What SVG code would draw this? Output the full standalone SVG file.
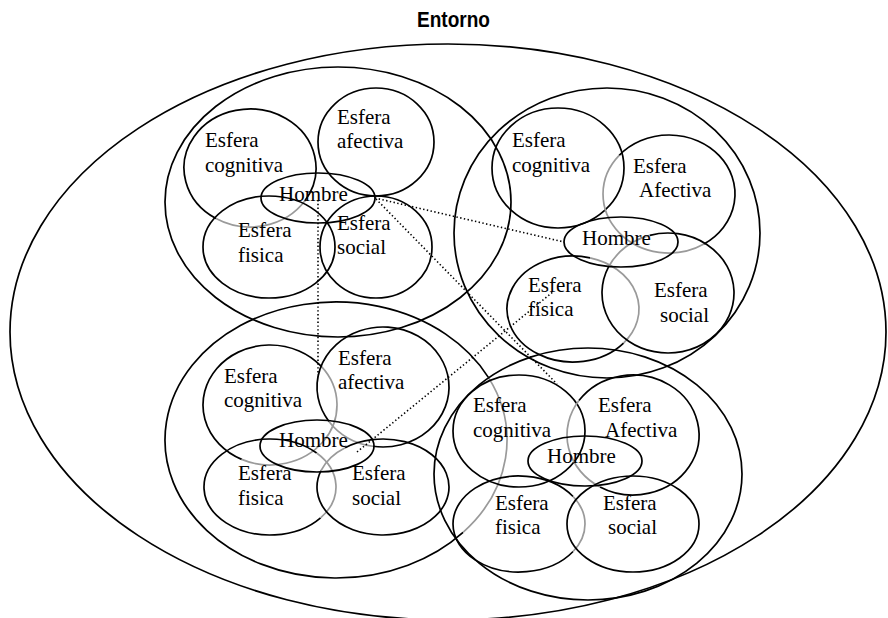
<svg xmlns="http://www.w3.org/2000/svg" width="888" height="618" viewBox="0 0 888 618">
  <style>
    .ln { fill: none; stroke: #000; stroke-width: 1.7; }
    .gr { fill: none; stroke: #9a9a9a; stroke-width: 1.7; }
    .dot { fill: none; stroke: #000; stroke-width: 1.6; stroke-dasharray: 1.4 2.4; }
    .lbl { font-family: "Liberation Serif", "Times New Roman", serif; font-size: 21px; fill: #000; }
    .title { font-family: "Liberation Sans Narrow", "Liberation Sans", Arial, sans-serif; font-size: 22px; font-weight: bold; fill: #000; }
  </style>
  <rect width="888" height="618" fill="#fff"/>

  <!-- Environment -->
  <g id="entorno">
    <ellipse class="ln" cx="448" cy="332" rx="438" ry="288"/>
    <text class="title" x="417" y="27" textLength="73" lengthAdjust="spacingAndGlyphs">Entorno</text>
  </g>

  <!-- Person 1 (top left) -->
  <g id="persona1">
    <ellipse class="ln" cx="338" cy="202" rx="173" ry="135"/>
    <g id="p1-cognitiva">
      <path class="ln" d="M216.01,218.57 A66,59 0 1 1 304.71,201"/>
      <path class="gr" d="M304.71,201 A66,59 0 0 1 216.01,218.57"/>
      <text class="lbl" x="205" y="147">Esfera</text>
      <text class="lbl" x="205" y="172">cognitiva</text>
    </g>
    <g id="p1-afectiva">
      <ellipse class="ln" cx="376" cy="142" rx="58" ry="54"/>
      <text class="lbl" x="337" y="124">Esfera</text>
      <text class="lbl" x="337" y="148">afectiva</text>
    </g>
    <g id="p1-fisica">
      <ellipse class="ln" cx="269" cy="247" rx="66" ry="51"/>
      <text class="lbl" x="238" y="237">Esfera</text>
      <text class="lbl" x="238" y="262">fisica</text>
    </g>
    <g id="p1-social">
      <ellipse class="ln" cx="376" cy="247" rx="56" ry="51"/>
      <text class="lbl" x="337" y="230">Esfera</text>
      <text class="lbl" x="337" y="254">social</text>
    </g>
    <g id="p1-hombre">
      <ellipse class="ln" cx="318" cy="198" rx="57" ry="25"/>
      <text class="lbl" x="279" y="201">Hombre</text>
    </g>
  </g>

  <!-- Person 2 (top right) -->
  <g id="persona2">
    <ellipse class="ln" cx="607" cy="233" rx="153" ry="145"/>
    <g id="p2-cognitiva">
      <ellipse class="ln" cx="558" cy="168" rx="66" ry="60"/>
      <text class="lbl" x="512" y="147">Esfera</text>
      <text class="lbl" x="512" y="172">cognitiva</text>
    </g>
    <g id="p2-afectiva">
      <path class="ln" d="M619.19,155.29 A66,59 0 1 1 703.97,244.03"/>
      <path class="gr" d="M703.97,244.03 A66,59 0 0 1 619.19,155.29"/>
      <text class="lbl" x="633" y="173">Esfera</text>
      <text class="lbl" x="639" y="197">Afectiva</text>
    </g>
    <g id="p2-fisica">
      <path class="ln" d="M623.56,343.07 A66,53 0 1 1 590.08,257.81"/>
      <path class="gr" d="M590.08,257.81 A66,53 0 0 1 623.56,343.07"/>
      <text class="lbl" x="528" y="292">Esfera</text>
      <text class="lbl" x="528" y="316">fisica</text>
    </g>
    <g id="p2-social">
      <path class="ln" d="M649.81,235.32 A66,60 0 1 1 608.68,266.7"/>
      <path class="gr" d="M608.68,266.7 A66,60 0 0 1 649.81,235.32"/>
      <text class="lbl" x="654" y="297">Esfera</text>
      <text class="lbl" x="660" y="322">social</text>
    </g>
    <g id="p2-hombre">
      <ellipse class="ln" cx="621" cy="242" rx="57" ry="25"/>
      <text class="lbl" x="582" y="245">Hombre</text>
    </g>
  </g>

  <!-- Person 3 (bottom left) -->
  <g id="persona3">
    <path class="ln" d="M463.07,532.34 A171,138 0 1 1 488.36,377.35"/>
    <path class="gr" d="M488.36,377.35 A171,138 0 0 1 463.07,532.34"/>
    <g id="p3-cognitiva">
      <path class="ln" d="M241.69,459.38 A67,60 0 1 1 321.32,366.43"/>
      <path class="gr" d="M321.32,366.43 A67,60 0 0 1 241.69,459.38"/>
      <text class="lbl" x="224" y="383">Esfera</text>
      <text class="lbl" x="224" y="407">cognitiva</text>
    </g>
    <g id="p3-afectiva">
      <path class="ln" d="M328.94,421.42 A66,60 0 1 1 372.68,446.26"/>
      <path class="gr" d="M372.68,446.26 A66,60 0 0 1 328.94,421.42"/>
      <text class="lbl" x="338" y="365">Esfera</text>
      <text class="lbl" x="338" y="389">afectiva</text>
    </g>
    <g id="p3-fisica">
      <path class="ln" d="M320.56,517.85 A66,48 0 1 1 316.67,453.06"/>
      <path class="gr" d="M316.67,453.06 A66,48 0 0 1 320.56,517.85"/>
      <text class="lbl" x="238" y="480">Esfera</text>
      <text class="lbl" x="238" y="505">fisica</text>
    </g>
    <g id="p3-social">
      <path class="ln" d="M345.14,447.68 A66,48 0 1 1 320.98,470.58"/>
      <path class="gr" d="M320.98,470.58 A66,48 0 0 1 345.14,447.68"/>
      <text class="lbl" x="352" y="480">Esfera</text>
      <text class="lbl" x="352" y="505">social</text>
    </g>
    <g id="p3-hombre">
      <ellipse class="ln" cx="317" cy="446" rx="57" ry="26"/>
      <text class="lbl" x="279" y="447">Hombre</text>
    </g>
  </g>

  <!-- Person 4 (bottom right) -->
  <g id="persona4">
    <ellipse class="ln" cx="588" cy="474" rx="154" ry="126"/>
    <g id="p4-cognitiva">
      <ellipse class="ln" cx="519" cy="431" rx="66" ry="56"/>
      <text class="lbl" x="473" y="412">Esfera</text>
      <text class="lbl" x="473" y="437">cognitiva</text>
    </g>
    <g id="p4-afectiva">
      <path class="ln" d="M578.94,400.59 A66,60 0 1 1 600,486.96"/>
      <path class="gr" d="M600,486.96 A66,60 0 0 1 578.94,400.59"/>
      <text class="lbl" x="598" y="412">Esfera</text>
      <text class="lbl" x="605" y="437">Afectiva</text>
    </g>
    <g id="p4-fisica">
      <path class="ln" d="M573.07,551.53 A66,48 0 1 1 573.07,496.47"/>
      <path class="gr" d="M573.07,496.47 A66,48 0 0 1 573.07,551.53"/>
      <text class="lbl" x="495" y="510">Esfera</text>
      <text class="lbl" x="495" y="534">fisica</text>
    </g>
    <g id="p4-social">
      <ellipse class="ln" cx="633" cy="524" rx="66" ry="48"/>
      <text class="lbl" x="603" y="510">Esfera</text>
      <text class="lbl" x="608" y="534">social</text>
    </g>
    <g id="p4-hombre">
      <ellipse class="ln" cx="585" cy="461" rx="57" ry="25"/>
      <text class="lbl" x="547" y="463">Hombre</text>
    </g>
  </g>

  <!-- Dotted links between the persons -->
  <g id="connectors">
    <line class="dot" x1="375" y1="198" x2="564" y2="242"/>
    <line class="dot" x1="376" y1="199" x2="557" y2="384"/>
    <line class="dot" x1="318" y1="200" x2="318" y2="375"/>
    <line class="dot" x1="357" y1="452" x2="554" y2="291"/>
  </g>
</svg>
